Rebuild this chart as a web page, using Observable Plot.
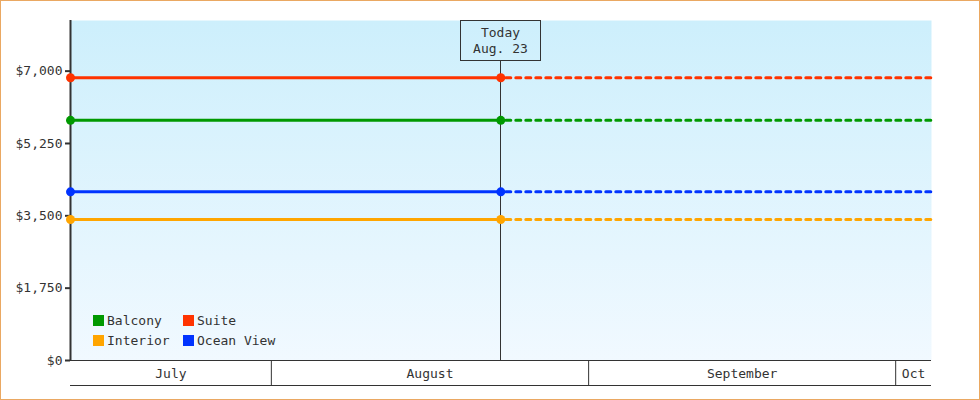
<!DOCTYPE html>
<html><head><meta charset="utf-8">
<script src="https://cdn.jsdelivr.net/npm/d3@7"></script>
<script src="https://cdn.jsdelivr.net/npm/@observablehq/plot@0.6"></script>
<style>
html,body{margin:0;padding:0;background:#fff;}
#wrap{position:relative;width:980px;height:400px;}
#wrap svg{display:block;}
#border{position:absolute;left:0;top:0;width:980px;height:400px;box-sizing:border-box;border:1px solid #eaa862;pointer-events:none;}
#legend{position:absolute;left:93px;top:312px;font:13px "DejaVu Sans Mono",monospace;color:#333;display:grid;grid-template-columns:90px auto;row-gap:3px;}
.item{display:flex;align-items:center;height:17px;white-space:pre;}
.sw{width:11px;height:11px;margin-right:3px;}
</style></head><body>
<div id="wrap"><div id="legend"></div><div id="border"></div></div>
<script>
const categories = ["Balcony", "Suite", "Interior", "Ocean View"];
const prices = [5810, 6840, 3410, 4080];
const seriesColors = ["#009900", "#ff3300", "#ffa500", "#0033ff"];
const startDate = new Date("2024-07-12T09:00Z");
const todayDate = new Date("2024-08-23T10:00Z");
const endDate = new Date("2024-10-04T12:00Z");
const todayLabel = ["Today", "Aug. 23"];
const yTicks = [0, 1750, 3500, 5250, 7000];
const yMax = 8225;
const monthNames = ["July", "August", "September", "Oct"];
const monthStarts = ["2024-07-01", "2024-08-01", "2024-09-01", "2024-10-01", "2024-11-01"].map(d => new Date(d + "T00:00Z"));

const solid = categories.flatMap((c, i) => [
  {cat: c, date: startDate, price: prices[i]},
  {cat: c, date: todayDate, price: prices[i]}
]);
const dashed = categories.flatMap((c, i) => [
  {cat: c, date: todayDate, price: prices[i]},
  {cat: c, date: endDate, price: prices[i]}
]);
const monthLabels = monthNames.map((name, i) => {
  const a = Math.max(+startDate, +monthStarts[i]);
  const b = Math.min(+endDate, +monthStarts[i + 1]);
  return {name, mid: new Date((a + b) / 2)};
});
const boundaries = monthStarts.filter(d => d > startDate && d < endDate);

const color = {domain: categories, range: seriesColors};
const ink = "#333";

const svg = Plot.plot({
  width: 980,
  height: 400,
  marginTop: 20,
  marginBottom: 40,
  marginLeft: 70,
  marginRight: 49,
  style: {fontFamily: "'DejaVu Sans Mono', monospace", fontSize: "13px", color: ink, background: "transparent"},
  x: {type: "utc", domain: [startDate, endDate]},
  y: {domain: [0, yMax]},
  color,
  marks: [
    () => {
      const defs = d3.create("svg:defs");
      const g = defs.append("linearGradient").attr("id", "bgGrad").attr("x1", 0).attr("y1", 0).attr("x2", 0).attr("y2", 1);
      g.append("stop").attr("offset", "0%").attr("stop-color", "#cdeffc");
      g.append("stop").attr("offset", "100%").attr("stop-color", "#f1f9ff");
      return defs.node();
    },
    Plot.frame({fill: "url(#bgGrad)", stroke: null}),
    (index, scales, values, dims) => {
      const x = Math.round(scales.x(todayDate)) + 0.5;
      const top = dims.marginTop;
      const g = d3.create("svg:g");
      g.append("line").attr("x1", x).attr("x2", x).attr("y1", top + 40).attr("y2", dims.height - dims.marginBottom).attr("stroke", ink);
      g.append("rect").attr("x", x - 40).attr("y", top + 0.5).attr("width", 80).attr("height", 40).attr("fill", "none").attr("stroke", ink);
      g.append("text").attr("x", x).attr("y", top + 13).attr("text-anchor", "middle").attr("fill", ink).attr("dominant-baseline", "middle").text(todayLabel[0]);
      g.append("text").attr("x", x).attr("y", top + 29).attr("text-anchor", "middle").attr("fill", ink).attr("dominant-baseline", "middle").text(todayLabel[1]);
      return g.node();
    },
    Plot.line(solid, {x: "date", y: "price", z: "cat", stroke: "cat", strokeWidth: 3}),
    Plot.line(dashed, {x: "date", y: "price", z: "cat", stroke: "cat", strokeWidth: 3, strokeDasharray: "5,5", strokeDashoffset: -5}),
    Plot.ruleY([0], {stroke: ink}),
    Plot.ruleY([0], {stroke: ink, dy: 25}),
    Plot.axisX(boundaries, {tickSize: 25, tickFormat: () => "", stroke: ink, label: null}),
    Plot.text(monthLabels, {x: "mid", text: "name", frameAnchor: "bottom", lineAnchor: "middle", dy: 13, fill: ink}),
    Plot.axisY(yTicks, {tickFormat: d => "$" + d3.format(",")(d), tickSize: 5, tickPadding: 3, strokeWidth: 2, stroke: ink, fill: ink, label: null}),
    Plot.ruleX([startDate], {stroke: ink, strokeWidth: 2}),
    Plot.dot(solid, {x: "date", y: "price", fill: "cat", r: 4.5})
  ]
});
document.getElementById("wrap").insertBefore(svg, document.getElementById("legend"));

const legend = document.getElementById("legend");
categories.forEach((c, i) => {
  const item = document.createElement("div");
  item.className = "item";
  const sw = document.createElement("span");
  sw.className = "sw";
  sw.style.background = seriesColors[i];
  item.appendChild(sw);
  item.appendChild(document.createTextNode(c));
  legend.appendChild(item);
});
</script>
</body></html>
